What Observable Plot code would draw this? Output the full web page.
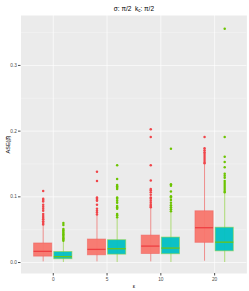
<!DOCTYPE html>
<html>
<head>
<meta charset="utf-8">
<script src="https://cdn.jsdelivr.net/npm/d3@7"></script>
<script src="https://cdn.jsdelivr.net/npm/@observablehq/plot@0.6"></script>
<style>
  html, body { margin: 0; padding: 0; background: #ffffff; }
  #chart svg { display: block; font-family: "Liberation Sans", Arial, sans-serif; }
</style>
</head>
<body>
<div id="chart"></div>
<script>
// ---- data ----
const epsLabels = ["0", "5", "10", "20"];
const yTicks = [0, 0.1, 0.2, 0.3];
const yMinor = [0.05, 0.15, 0.25, 0.35];

// red series (fill #F8766D)
const redQ1  = [0.009, 0.011, 0.013, 0.030];
const redMed = [0.017, 0.020, 0.025, 0.053];
const redQ3  = [0.029, 0.035, 0.041, 0.078];
const redLo  = [0.001, 0.001, 0.001, 0.002];
const redHi  = [0.056, 0.071, 0.083, 0.149];
const redOut = [
  [0.109, 0.097, 0.095, 0.093, 0.088, 0.085, 0.082, 0.079, 0.074, 0.071, 0.068, 0.066, 0.063, 0.060, 0.058],
  [0.138, 0.124, 0.099, 0.097, 0.095, 0.094, 0.088, 0.082, 0.079, 0.076, 0.073],
  [0.203, 0.191, 0.148, 0.125, 0.112, 0.110, 0.107, 0.103, 0.099, 0.097, 0.094, 0.091, 0.088, 0.086, 0.084],
  [0.191, 0.174, 0.171, 0.168, 0.165, 0.162, 0.159, 0.156, 0.153, 0.151]
];

// teal/green series (fill #00BFC4)
const grnQ1  = [0.005, 0.012, 0.0126, 0.017];
const grnMed = [0.009, 0.021, 0.022, 0.031];
const grnQ3  = [0.016, 0.034, 0.038, 0.053];
const grnLo  = [0.000, 0.000, 0.000, 0.000];
const grnHi  = [0.032, 0.067, 0.077, 0.106];
const grnOut = [
  [0.060, 0.057, 0.051, 0.049, 0.047, 0.045, 0.043, 0.041, 0.039, 0.037, 0.035, 0.033],
  [0.148, 0.127, 0.118, 0.116, 0.114, 0.112, 0.099, 0.097, 0.094, 0.091, 0.086, 0.084, 0.082, 0.074, 0.072, 0.069],
  [0.173, 0.119, 0.117, 0.108, 0.101, 0.099, 0.095, 0.091, 0.087, 0.084, 0.081, 0.078],
  [0.356, 0.191, 0.161, 0.153, 0.145, 0.135, 0.132, 0.129, 0.124, 0.121, 0.118, 0.115, 0.112, 0.109, 0.107]
];

const titleParts = ["σ: π/2  k", "c", ": π/2"];
const xLabel = "ε";
const yLabel = "ASE(β̂)";

// ---- build tables ----
const series = [
  {name: "a", off: -0.1875, q1: redQ1, med: redMed, q3: redQ3, lo: redLo, hi: redHi, out: redOut,
   fill: "#F8766D", line: "#F0605E", medLine: "#EE3F42", dot: "#F0454A"},
  {name: "b", off: 0.1875, q1: grnQ1, med: grnMed, q3: grnQ3, lo: grnLo, hi: grnHi, out: grnOut,
   fill: "#00BFC4", line: "#8ED33C", medLine: "#6CC417", dot: "#6CC400"}
];
const halfW = 0.75 / 4 * 0.9;
const boxes = [];
const outliers = [];
series.forEach(s => {
  epsLabels.forEach((e, i) => {
    const cx = i + 1 + s.off;
    boxes.push({cx, x1: cx - halfW, x2: cx + halfW, q1: s.q1[i], med: s.med[i], q3: s.q3[i],
      lo: s.lo[i], hi: s.hi[i], fill: s.fill, line: s.line, medLine: s.medLine});
    s.out[i].forEach(v => outliers.push({cx, v, dot: s.dot}));
  });
});

const plot = Plot.plot({
  width: 249,
  height: 291,
  marginLeft: 20.5,
  marginRight: 2.6,
  marginTop: 15,
  marginBottom: 18,
  style: {fontFamily: "Liberation Sans, Arial, sans-serif", background: "#ffffff"},
  x: {type: "linear", domain: [0.4, 4.6]},
  y: {domain: [-0.0167, 0.376]},
  marks: [
    Plot.frame({fill: "#EBEBEB", stroke: null}),
    Plot.ruleY(yMinor, {stroke: "#ffffff", strokeWidth: 0.3}),
    Plot.ruleY(yTicks, {stroke: "#ffffff", strokeWidth: 0.65}),
    Plot.ruleX([1, 2, 3, 4], {stroke: "#ffffff", strokeWidth: 0.65}),
    Plot.ruleX(boxes, {x: "cx", y1: "lo", y2: "hi", stroke: "line", strokeWidth: 0.9, strokeOpacity: 0.75}),
    Plot.rect(boxes, {x1: "x1", x2: "x2", y1: "q1", y2: "q3", fill: "fill", fillOpacity: 0.95, stroke: "line", strokeWidth: 0.9, strokeOpacity: 0.6}),
    Plot.ruleY(boxes, {x1: "x1", x2: "x2", y: "med", stroke: "medLine", strokeWidth: 1.3}),
    Plot.dot(outliers, {x: "cx", y: "v", fill: "dot", stroke: null, r: 1.25}),
    Plot.axisY({ticks: yTicks, tickFormat: d3.format(".1f"), tickSize: 2.5, tickPadding: 1.5,
      fontSize: 4.8, color: "#4D4D4D", label: yLabel, labelAnchor: "center", labelArrow: "none", labelOffset: 15}),
    Plot.axisX({ticks: [1, 2, 3, 4], tickFormat: d => epsLabels[d - 1], tickSize: 2.5, tickPadding: 1.5,
      fontSize: 4.8, color: "#4D4D4D", label: xLabel, labelAnchor: "center", labelArrow: "none", labelOffset: 14}),
    Plot.text([titleParts.join("")], {frameAnchor: "top", dy: -9.5, fontSize: 6.5, fill: "#000000", className: "ctitle"})
  ]
});

// subscript in title
const t = d3.select(plot).select("g.ctitle text");
t.text(null);
t.append("tspan").text(titleParts[0]);
t.append("tspan").attr("font-size", 4.5).attr("dy", 1.6).text(titleParts[1]);
t.append("tspan").attr("dy", -1.6).text(titleParts[2]);
// axis label colours / sizes
d3.select(plot).selectAll("g[aria-label='y-axis label'] text, g[aria-label='x-axis label'] text")
  .attr("fill", "#000000").style("font-size", "5.5px");

document.getElementById("chart").appendChild(plot);
</script>
</body>
</html>
